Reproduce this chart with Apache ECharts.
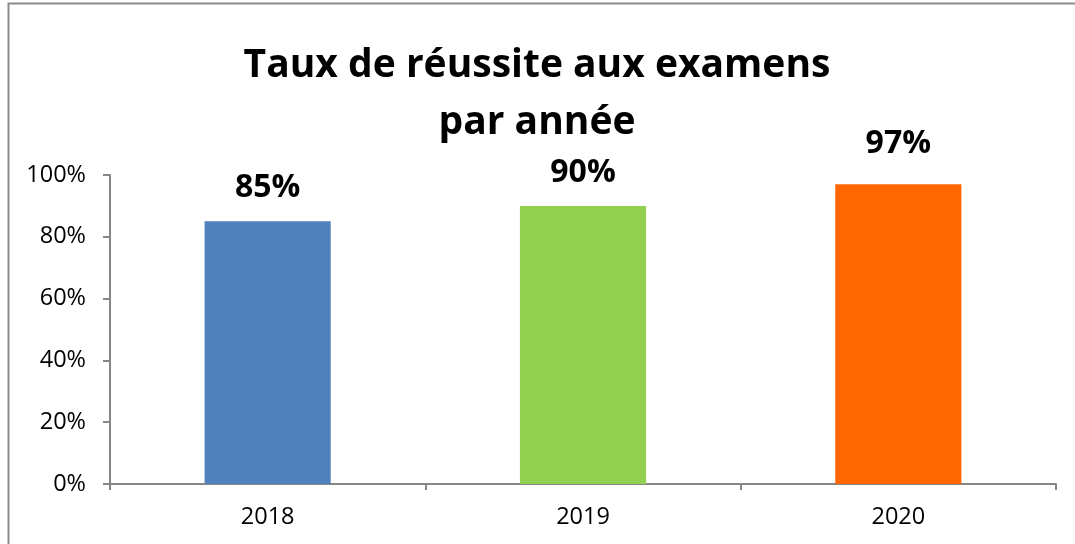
<!DOCTYPE html>
<html>
<head>
<meta charset="utf-8">
<script src="https://cdn.jsdelivr.net/npm/echarts@6/dist/echarts.min.js"></script>
<style>
    html, body { margin: 0; padding: 0; background: #fff; }
    #chart { width: 1075px; height: 544px; }
</style>
</head>
<body>
<div id="chart"></div>
<script>
// données du graphique
const annees = ['2018', '2019', '2020']
const taux = [85, 90, 97] // en %
const couleurs = ['#4F81BD', '#92D050', '#FF6600']
const yTicks = [0, 20, 40, 60, 80, 100]

const police = '"Open Sans", "Liberation Sans", sans-serif'

let myChart = echarts.init(document.getElementById('chart'))

let option = {
    animation: false,
    title: {
        text: 'Taux de réussite aux examens\npar année',
        left: 532,
        top: 32,
        textAlign: 'center',
        textStyle: { fontFamily: police, fontSize: 39, fontWeight: 'bold', color: '#000', lineHeight: 57 },
    },
    graphic: [
        {
            type: 'rect',
            shape: { x: 8.5, y: 3.5, width: 1200, height: 700 },
            style: { fill: 'none', stroke: '#8c8c8c', lineWidth: 2 },
            silent: true,
        },
    ],
    grid: {
        left: 110,
        right: 19,
        top: 175,
        bottom: 60,
        containLabel: false,
    },
    xAxis: {
        type: 'category',
        data: annees,
        axisLine: { lineStyle: { color: '#868686', width: 2 } },
        axisTick: { show: true, length: 6, lineStyle: { color: '#868686', width: 2 } },
        axisLabel: { fontFamily: police, fontSize: 23.5, color: '#000', margin: 21 },
    },
    yAxis: {
        type: 'value',
        min: yTicks[0],
        max: yTicks[yTicks.length - 1],
        interval: yTicks[1] - yTicks[0],
        splitLine: { show: false },
        axisLine: { show: true, lineStyle: { color: '#868686', width: 2 } },
        axisTick: { show: true, length: 7, lineStyle: { color: '#868686', width: 2 } },
        axisLabel: {
            fontFamily: police,
            fontSize: 23.5,
            color: '#000',
            margin: 24,
            formatter: (v) => v + '%',
        },
    },
    series: [
        {
            type: 'bar',
            barWidth: '40%',
            data: taux.map((v, i) => ({
                value: v,
                itemStyle: { color: couleurs[i] },
                label: { distance: i === 2 ? 24 : 17 },
            })),
            label: {
                show: true,
                position: 'top',
                fontFamily: police,
                fontSize: 32,
                fontWeight: 'bold',
                color: '#000',
                formatter: (p) => p.value + '%',
            },
        },
    ],
}

myChart.setOption(option)
</script>
</body>
</html>
